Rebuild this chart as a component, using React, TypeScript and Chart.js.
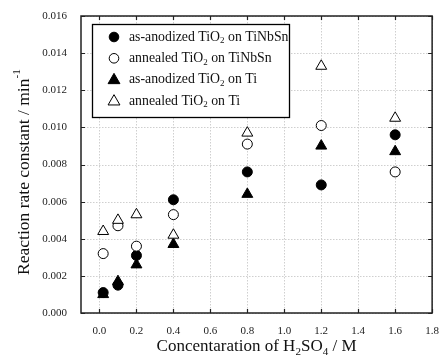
import React, { useEffect, useRef } from "react";
import { Chart, registerables } from "chart.js";

Chart.register(...registerables);

const concentrations = [0.02, 0.1, 0.2, 0.4, 0.8, 1.2, 1.6];
const asAnodizedTiNbSn = [0.0011, 0.0015, 0.0031, 0.0061, 0.0076, 0.0069, 0.0096];
const annealedTiNbSn = [0.0032, 0.0047, 0.0036, 0.0053, 0.0091, 0.0101, 0.0076];
const asAnodizedTi = [0.001, 0.0017, 0.0026, 0.0037, 0.0064, 0.009, 0.0087];
const annealedTi = [0.0044, 0.005, 0.0053, 0.0042, 0.0097, 0.0133, 0.0105];

const xTicks = [0, 0.2, 0.4, 0.6, 0.8, 1.0, 1.2, 1.4, 1.6, 1.8];
const yTicks = [0, 0.002, 0.004, 0.006, 0.008, 0.01, 0.012, 0.014, 0.016];

const seriesNames = [
  ["as-anodized TiO", "2", " on TiNbSn"],
  ["annealed TiO", "2", " on TiNbSn"],
  ["as-anodized TiO", "2", " on Ti"],
  ["annealed TiO", "2", " on Ti"],
];

const FONT = "'Liberation Serif', 'Times New Roman', serif";

function pts(values: number[]) {
  return concentrations.map((x, i) => ({ x, y: values[i] }));
}

function drawMarker(ctx: CanvasRenderingContext2D, style: string, filled: boolean, x: number, y: number, r: number) {
  ctx.save();
  ctx.beginPath();
  if (style === "circle") {
    ctx.arc(x, y, r, 0, Math.PI * 2);
  } else {
    const rr = r * 1.3;
    ctx.moveTo(x, y - rr);
    ctx.lineTo(x + rr * 0.95, y + rr * 0.65);
    ctx.lineTo(x - rr * 0.95, y + rr * 0.65);
    ctx.closePath();
  }
  ctx.fillStyle = filled ? "#000" : "#fff";
  ctx.fill();
  ctx.lineWidth = 1;
  ctx.strokeStyle = "#000";
  ctx.stroke();
  ctx.restore();
}

function drawSubText(ctx: CanvasRenderingContext2D, parts: string[], x: number, y: number, size: number, subKinds: string[]) {
  let cx = x;
  parts.forEach((p, i) => {
    const kind = subKinds[i];
    if (kind === "n") {
      ctx.font = `${size}px ${FONT}`;
      ctx.fillText(p, cx, y);
      cx += ctx.measureText(p).width;
    } else {
      const s = size * 0.65;
      ctx.font = `${s}px ${FONT}`;
      const dy = kind === "sub" ? size * 0.3 : -size * 0.42;
      ctx.fillText(p, cx, y + dy);
      cx += ctx.measureText(p).width;
    }
  });
  return cx - x;
}

function measureSubText(ctx: CanvasRenderingContext2D, parts: string[], size: number, subKinds: string[]) {
  let w = 0;
  parts.forEach((p, i) => {
    ctx.font = subKinds[i] === "n" ? `${size}px ${FONT}` : `${size * 0.65}px ${FONT}`;
    w += ctx.measureText(p).width;
  });
  return w;
}

const framePlugin = {
  id: "frame",
  beforeDatasetsDraw(chart: any) {
    const { ctx, chartArea: a, scales } = chart;
    ctx.save();
    ctx.strokeStyle = "#cfcfcf";
    ctx.lineWidth = 1;
    ctx.setLineDash([1.5, 1.5]);
    xTicks.forEach((v) => {
      const px = Math.round(scales.x.getPixelForValue(v)) + 0.5;
      ctx.beginPath();
      ctx.moveTo(px, a.top);
      ctx.lineTo(px, a.bottom);
      ctx.stroke();
    });
    yTicks.forEach((v) => {
      const py = Math.round(scales.y.getPixelForValue(v)) + 0.5;
      ctx.beginPath();
      ctx.moveTo(a.left, py);
      ctx.lineTo(a.right, py);
      ctx.stroke();
    });
    ctx.setLineDash([]);
    ctx.strokeStyle = "#222";
    ctx.lineWidth = 1.2;
    xTicks.forEach((v) => {
      const px = Math.round(scales.x.getPixelForValue(v)) + 0.5;
      ctx.beginPath();
      ctx.moveTo(px, a.bottom);
      ctx.lineTo(px, a.bottom - 4);
      ctx.moveTo(px, a.top);
      ctx.lineTo(px, a.top + 4);
      ctx.stroke();
    });
    yTicks.forEach((v) => {
      const py = Math.round(scales.y.getPixelForValue(v)) + 0.5;
      ctx.beginPath();
      ctx.moveTo(a.left, py);
      ctx.lineTo(a.left + 4, py);
      ctx.moveTo(a.right, py);
      ctx.lineTo(a.right - 4, py);
      ctx.stroke();
    });
    ctx.strokeStyle = "#222";
    ctx.lineWidth = 1.5;
    ctx.strokeRect(a.left, a.top, a.right - a.left, a.bottom - a.top);
    ctx.restore();
  },
  afterDatasetsDraw(chart: any) {
    const { ctx, chartArea: a } = chart;
    ctx.save();
    const bx = 92, by = 24, bw = 197, bh = 93;
    ctx.fillStyle = "#fff";
    ctx.fillRect(bx, by, bw, bh);
    ctx.strokeStyle = "#000";
    ctx.lineWidth = 1.3;
    ctx.strokeRect(bx + 0.5, by + 0.5, bw, bh);
    const styles = [["circle", true], ["circle", false], ["triangle", true], ["triangle", false]];
    ctx.textBaseline = "middle";
    ctx.textAlign = "left";
    seriesNames.forEach((parts, i) => {
      const y = 37 + i * 21.3;
      drawMarker(ctx, styles[i][0] as string, styles[i][1] as boolean, 114, y, 4.8);
      ctx.fillStyle = "#111";
      drawSubText(ctx, parts, 129, y, 13.8, ["n", "sub", "n"]);
    });
    const xParts = ["Concentaration of H", "2", "SO", "4", " / M"];
    const xKinds = ["n", "sub", "n", "sub", "n"];
    const xw = measureSubText(ctx, xParts, 17, xKinds);
    ctx.fillStyle = "#111";
    drawSubText(ctx, xParts, (a.left + a.right) / 2 - xw / 2, 347, 17, xKinds);
    const yParts = ["Reaction rate constant / min", "-1"];
    const yKinds = ["n", "sup"];
    const yw = measureSubText(ctx, yParts, 17.5, yKinds);
    ctx.translate(24, 172);
    ctx.rotate(-Math.PI / 2);
    drawSubText(ctx, yParts, -yw / 2, 0, 17.5, yKinds);
    ctx.restore();
  },
};

export default function App() {
  const ref = useRef<HTMLCanvasElement>(null);
  useEffect(() => {
    document.body.style.margin = "0";
    const mk = (label: string, values: number[], style: string, filled: boolean) => ({
      label,
      data: pts(values),
      pointStyle: style,
      pointRadius: style === "circle" ? 5 : 6.3,
      pointBackgroundColor: filled ? "#000" : "#fff",
      pointBorderColor: "#000",
      pointBorderWidth: 1,
      showLine: false,
    });
    const chart = new Chart(ref.current!, {
      type: "scatter",
      data: {
        datasets: [
          mk("as-anodized TiO2 on TiNbSn", asAnodizedTiNbSn, "circle", true),
          mk("annealed TiO2 on TiNbSn", annealedTiNbSn, "circle", false),
          mk("as-anodized TiO2 on Ti", asAnodizedTi, "triangle", true),
          mk("annealed TiO2 on Ti", annealedTi, "triangle", false),
        ].reverse(),
      },
      options: {
        responsive: false,
        animation: false,
        layout: { padding: { left: 0, right: 9, top: 16, bottom: 0 } },
        plugins: { legend: { display: false }, tooltip: { enabled: false } },
        scales: {
          x: {
            type: "linear",
            min: -0.1,
            max: 1.8,
            grid: { display: false },
            border: { display: false },
            afterBuildTicks: (s: any) => {
              s.ticks = xTicks.map((v) => ({ value: v }));
            },
            afterFit: (s: any) => {
              s.height = 50;
            },
            ticks: {
              autoSkip: false,
              maxRotation: 0,
              padding: 4,
              color: "#222",
              font: { family: FONT, size: 11 },
              callback: (v: any) => Number(v).toFixed(1),
            },
          },
          y: {
            type: "linear",
            min: 0,
            max: 0.016,
            grid: { display: false },
            border: { display: false },
            afterBuildTicks: (s: any) => {
              s.ticks = yTicks.map((v) => ({ value: v }));
            },
            afterFit: (s: any) => {
              s.width = 81;
            },
            ticks: {
              autoSkip: false,
              padding: 6,
              color: "#222",
              font: { family: FONT, size: 11 },
              callback: (v: any) => Number(v).toFixed(3),
            },
          },
        },
      },
      plugins: [framePlugin],
    } as any);
    return () => chart.destroy();
  }, []);
  return (
    <div style={{ width: 443, height: 363 }}>
      <canvas ref={ref} width={443} height={363} />
    </div>
  );
}
